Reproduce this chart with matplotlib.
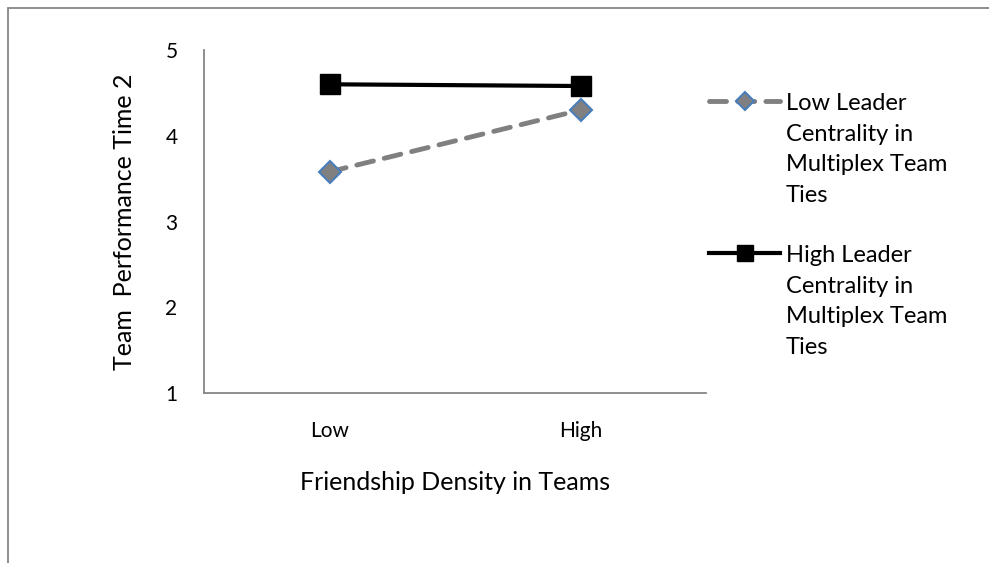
import matplotlib.pyplot as plt
from matplotlib.lines import Line2D
from matplotlib.patches import Rectangle

plt.rcParams['font.family'] = ['Lato', 'DejaVu Sans']

categories = ['Low', 'High']
low_centrality = [3.58, 4.30]
high_centrality = [4.60, 4.58]
yticks = [1, 2, 3, 4, 5]
legend_labels = ['Low Leader\nCentrality in\nMultiplex Team\nTies',
                 'High Leader\nCentrality in\nMultiplex Team\nTies']

W, H = 989, 563
fig = plt.figure(figsize=(W / 100, H / 100), dpi=100)
ax = fig.add_axes([204 / W, 1 - 393 / H, (706 - 204) / W, (393 - 50) / H])

x = range(len(categories))
low_style = dict(color='#808080', lw=3.5, linestyle=(0, (3.5, 2.3)),
                 dash_capstyle='round', marker='D', markersize=11,
                 markerfacecolor='#808080', markeredgecolor='#4a7ebb',
                 markeredgewidth=1.5)
high_style = dict(color='black', lw=3, marker='s', markersize=14,
                  markerfacecolor='black', markeredgecolor='black')
ax.plot(x, low_centrality, **low_style)
ax.plot(x, high_centrality, **high_style)

ax.set_xlim(-0.5, 1.5)
ax.set_ylim(1, 5)
ax.set_yticks(yticks)
ax.set_xticks(list(x))
ax.set_xticklabels(categories)
ax.tick_params(length=0, labelsize=15, colors='black')
ax.tick_params(axis='y', pad=19)
ax.tick_params(axis='x', pad=20)
for side in ['top', 'right']:
    ax.spines[side].set_visible(False)
for side in ['left', 'bottom']:
    ax.spines[side].set_color('#868686')
    ax.spines[side].set_linewidth(1.3)

ax.set_ylabel('Team  Performance Time 2', fontsize=18, labelpad=21)
ax.set_xlabel('Friendship Density in Teams', fontsize=18, labelpad=22)

# legend drawn by hand so the handle sits on the first text line
def fx(px):
    return px / W

def fy(py):
    return 1 - py / H

for (style, label, ytop) in [(low_style, legend_labels[0], 101),
                             (high_style, legend_labels[1], 253)]:
    line_style = {k: v for k, v in style.items() if not k.startswith('marker')}
    fig.add_artist(Line2D([fx(709), fx(780)], [fy(ytop), fy(ytop)],
                          transform=fig.transFigure, **line_style))
    fig.add_artist(Line2D([fx(745)], [fy(ytop)], transform=fig.transFigure,
                          linestyle='none', marker=style['marker'],
                          markersize=style['markersize'] - 2,
                          markerfacecolor=style['markerfacecolor'],
                          markeredgecolor=style['markeredgecolor'],
                          markeredgewidth=style.get('markeredgewidth', 1)))
    fig.text(fx(786), fy(ytop - 8), label, fontsize=17, va='top',
             ha='left', linespacing=1.56)

# chart area outline
fig.add_artist(Rectangle((fx(8), -0.1), 1.2, fy(8) + 0.1,
                         transform=fig.transFigure, fill=False,
                         edgecolor='#868686', lw=1.3))

fig.savefig('out.png', dpi=100)
